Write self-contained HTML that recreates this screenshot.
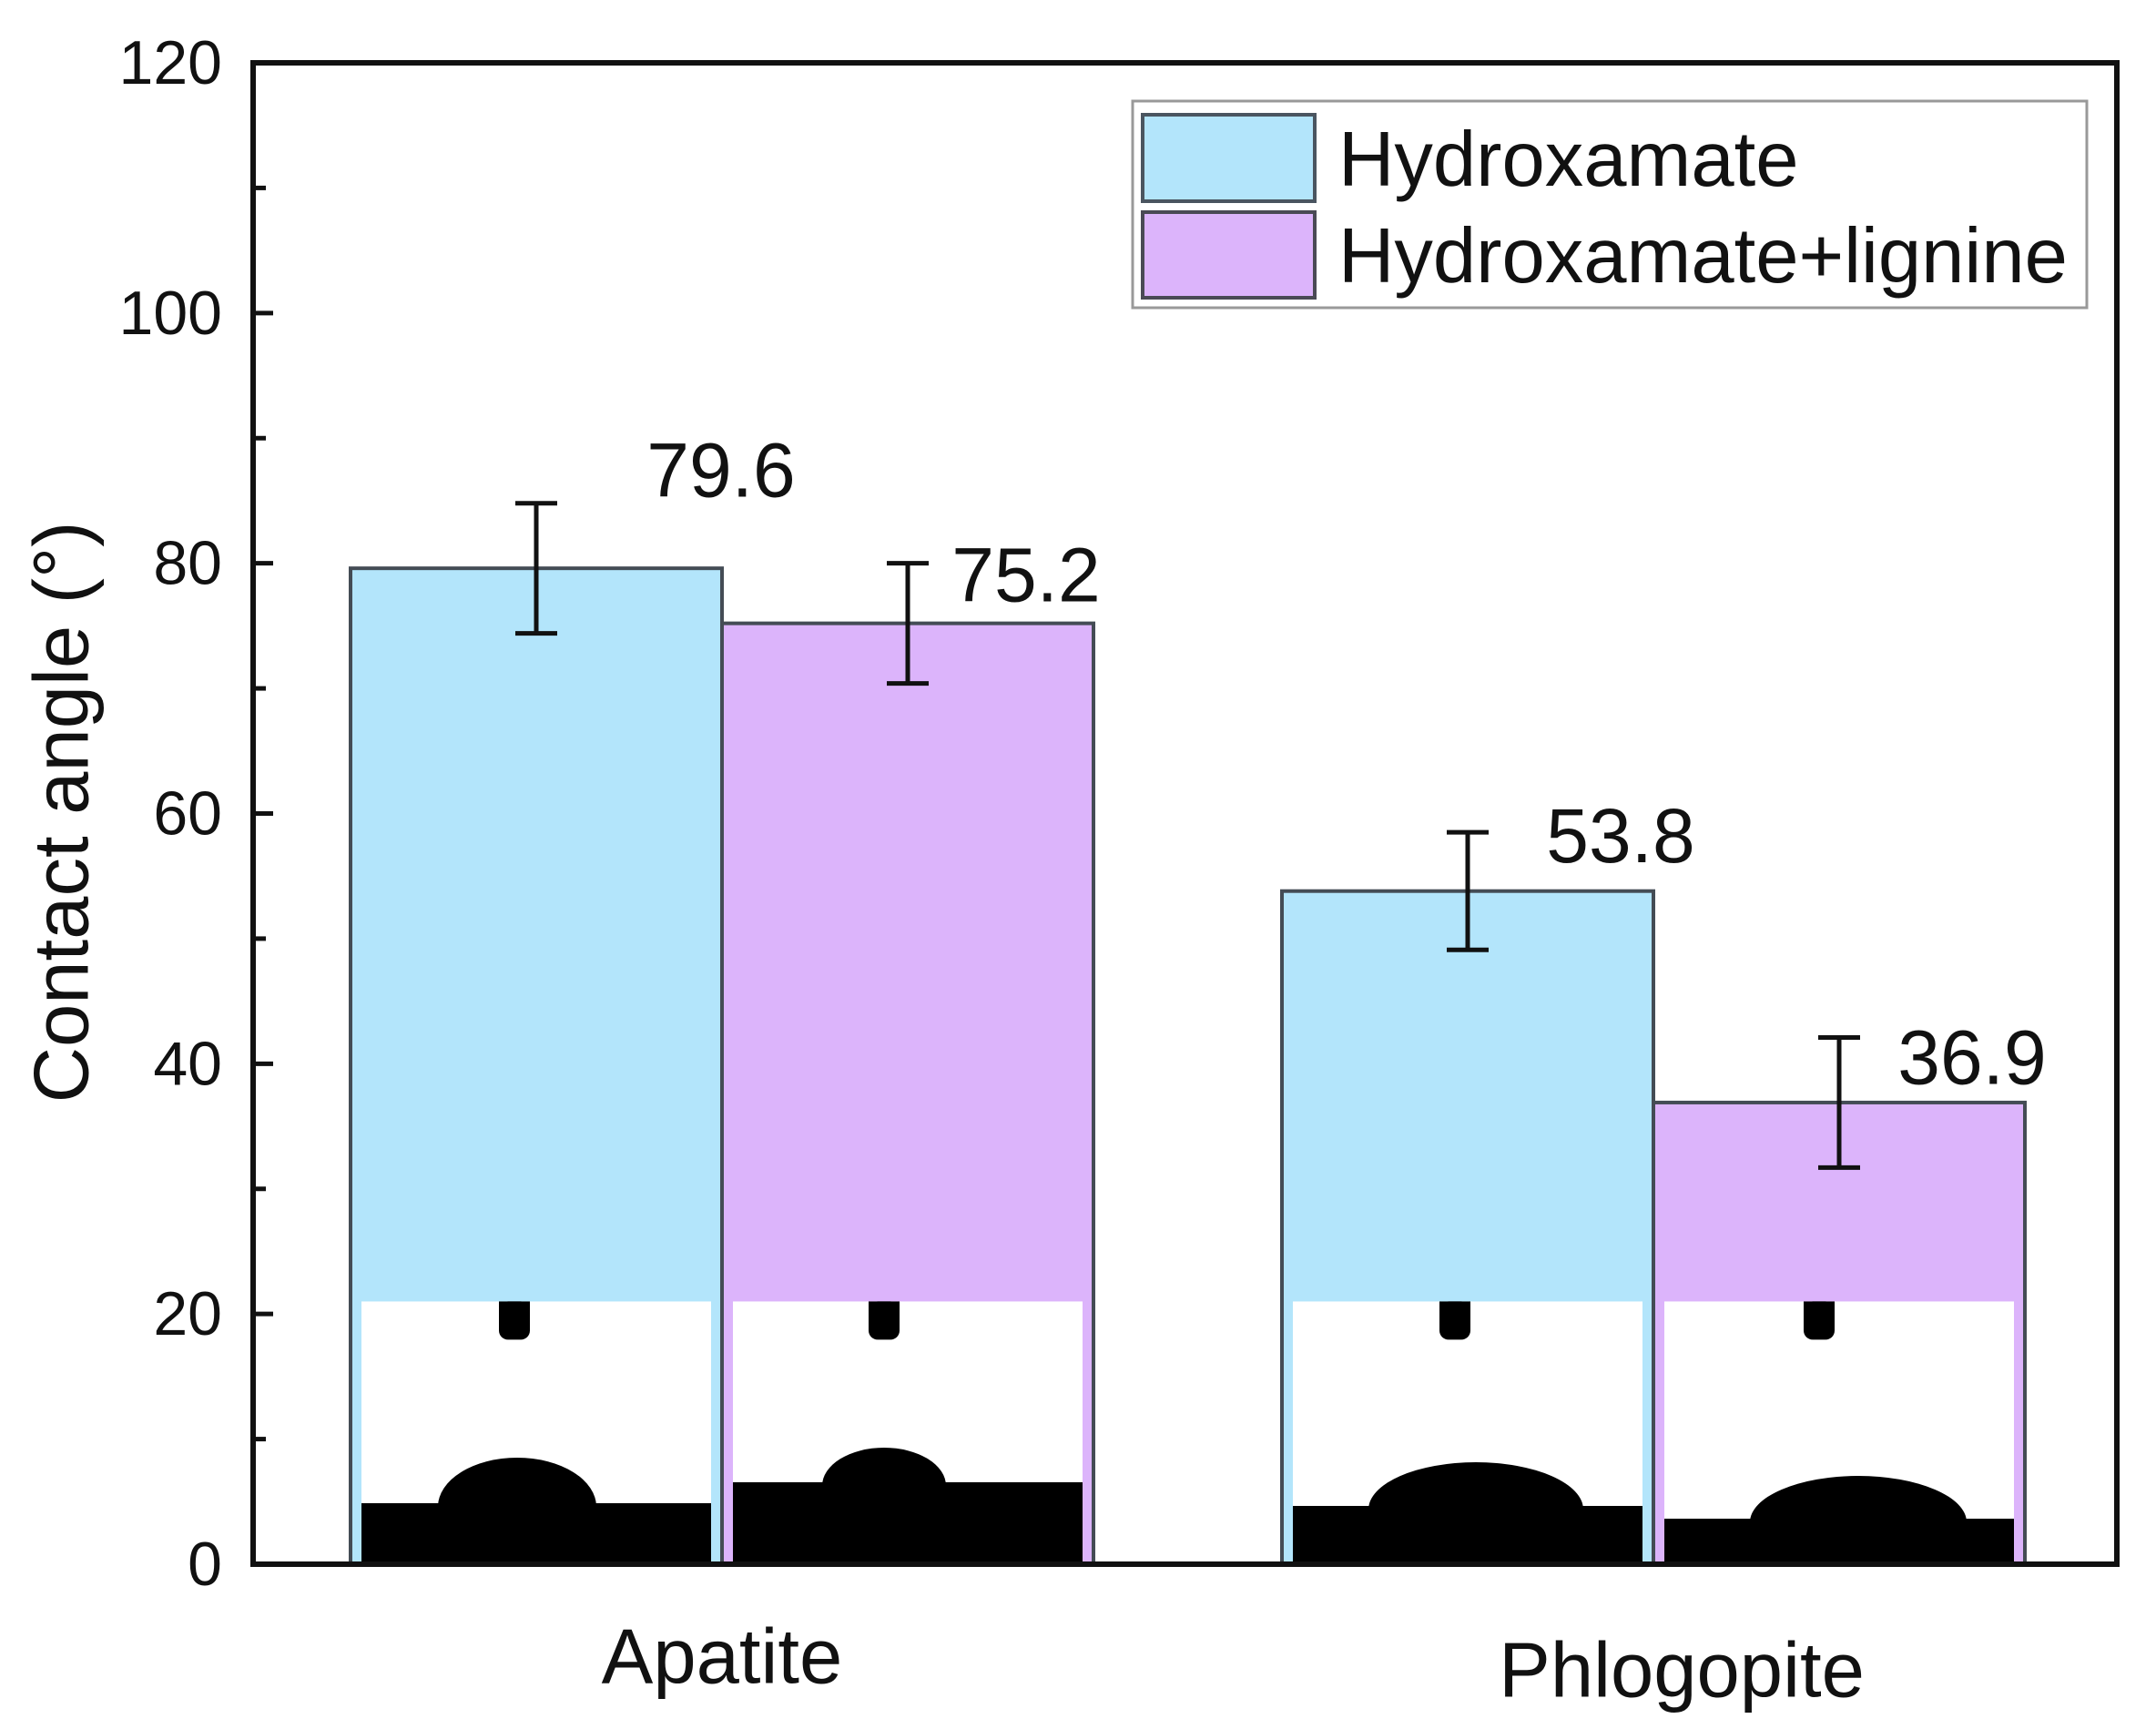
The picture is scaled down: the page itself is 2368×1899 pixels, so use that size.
<!DOCTYPE html>
<html><head><meta charset="utf-8"><style>
html,body{margin:0;padding:0;background:#fff;}
svg{display:block;font-family:"Liberation Sans",Arial,sans-serif;}
</style></head><body>
<svg id="chart" width="2368" height="1899" viewBox="0 0 2368 1899" xmlns="http://www.w3.org/2000/svg">
<rect x="0" y="0" width="2368" height="1899" fill="#fff"/>
<g id="bars"></g>
<g id="axes"></g>
<g id="legend">
  <rect x="1244" y="111" width="1048" height="227" fill="#fff" stroke="#999" stroke-width="3"/>
  <rect x="1255" y="126" width="189" height="95" fill="#b3e5fb" stroke="#4a5560" stroke-width="4"/>
  <text x="1470" y="204" font-size="85" fill="#111">Hydroxamate</text>
  <rect x="1255" y="233" width="189" height="94" fill="#dcb4fb" stroke="#4a4a55" stroke-width="4"/>
  <text x="1470" y="310" font-size="85" fill="#111">Hydroxamate+lignine</text>
</g>
<text x="68" y="892" font-size="85" fill="#111" text-anchor="middle" dominant-baseline="central" transform="rotate(-90 68 892)">Contact angle (°)</text>
</svg>
<script>
const categories = ["Apatite", "Phlogopite"];
const seriesNames = ["Hydroxamate", "Hydroxamate+lignine"];
const hydroxamate = [79.6, 53.8];
const hydroxamateLignine = [75.2, 36.9];
const hydroxamateErr = [5.2, 4.7];
const hydroxamateLignineErr = [4.8, 5.2];
const valueLabels = [["79.6", "53.8"], ["75.2", "36.9"]];
const yTicks = [0, 20, 40, 60, 80, 100, 120];
const yTickLabels = ["0", "20", "40", "60", "80", "100", "120"];

const NS = "http://www.w3.org/2000/svg";
const L = 278, R = 2325, T = 69, B = 1718, YMAX = 120;
const y = v => B - (v / YMAX) * (B - T);
const groupCenters = [793, 1816];
const barW = 408;
const colors = ["#b3e5fb", "#dcb4fb"];
const series = [hydroxamate, hydroxamateLignine];
const errs = [hydroxamateErr, hydroxamateLignineErr];
// label offsets [series][category] = [dx from bar centre, dy from error-bar top]
const labelOffsets = [[[203, -36], [168, 4]], [[130, 13], [146, 22]]];
// photo layout [series][category]: ground height px, dome dx, dome half-width, dome height px, needle dx
const photo = [[[67, -21, 87, 117, -24], [64, 9, 118, 112, -14]], [[90, -26, 68, 128, -26], [50, 21, 119, 97, -22]]];

function mk(tag, attrs, parent) {
  const e = document.createElementNS(NS, tag);
  for (const k in attrs) e.setAttribute(k, attrs[k]);
  parent.appendChild(e);
  return e;
}
const barsG = document.getElementById("bars");
const axesG = document.getElementById("axes");

series.forEach((vals, s) => {
  vals.forEach((v, c) => {
    const x0 = s === 0 ? groupCenters[c] - barW : groupCenters[c];
    const cx = x0 + barW / 2;
    const bar = mk("rect", {x: x0, y: y(v), width: barW, height: B - y(v), fill: colors[s], stroke: "#444c55", "stroke-width": 4}, barsG);
    
    
    const ig = mk("g", {}, barsG);
    
    
    const top = y(21);
    const p = photo[s][c];
    mk("rect", {x: x0 + 12, y: top, width: barW - 24, height: B - top - 2, fill: "#fff"}, ig);
    const gy = B - p[0];
    mk("rect", {x: x0 + 12, y: gy, width: barW - 24, height: B - gy - 2, fill: "#000"}, ig);
    const dx = cx + p[1], rx = p[2], ry = p[3] - p[0] + 4;
    mk("path", {d: `M${dx - rx} ${gy + 4} A ${rx} ${ry} 0 0 1 ${dx + rx} ${gy + 4} Z`, fill: "#000"}, ig);
    mk("rect", {x: cx + p[4] - 17, y: top, width: 34, height: 42, rx: 10, fill: "#000"}, ig);
    mk("rect", {x: cx + p[4] - 17, y: top, width: 34, height: 20, fill: "#000"}, ig);
    const eg = mk("g", {stroke: "#111", "stroke-width": 5, fill: "none"}, barsG);
    
    
    const e = errs[s][c];
    mk("line", {x1: cx, x2: cx, y1: y(v + e), y2: y(v - e)}, eg);
    mk("line", {x1: cx - 23, x2: cx + 23, y1: y(v + e), y2: y(v + e)}, eg);
    mk("line", {x1: cx - 23, x2: cx + 23, y1: y(v - e), y2: y(v - e)}, eg);
    const off = labelOffsets[s][c];
    const t = mk("text", {x: cx + off[0], y: y(v + e) + off[1], "font-size": 84, fill: "#111", "text-anchor": "middle", "dominant-baseline": "central"}, barsG);
    
    
    t.textContent = valueLabels[s][c];
  });
});

const frame = mk("rect", {x: L, y: T, width: R - L, height: B - T, fill: "none", stroke: "#111", "stroke-width": 6}, axesG);


yTicks.forEach((v, i) => {
  const tk = mk("line", {x1: L, x2: L + 22, y1: y(v), y2: y(v), stroke: "#111", "stroke-width": 5}, axesG);
  
  
  if (i < yTicks.length - 1) {
    const mv = (v + yTicks[i + 1]) / 2;
    const mt = mk("line", {x1: L, x2: L + 14, y1: y(mv), y2: y(mv), stroke: "#111", "stroke-width": 5}, axesG);
    
    
  }
  const lb = mk("text", {x: 244, y: y(v), "font-size": 68, fill: "#111", "text-anchor": "end", "dominant-baseline": "central"}, axesG);
  
  
  lb.textContent = yTickLabels[i];
});
const catY = [1820, 1835];
const catDx = [0, 31];
categories.forEach((c, i) => {
  const t = mk("text", {x: groupCenters[i] + catDx[i], y: catY[i], "font-size": 85, fill: "#111", "text-anchor": "middle", "dominant-baseline": "central"}, axesG);
  
  
  t.textContent = c;
});
</script>
</body></html>
